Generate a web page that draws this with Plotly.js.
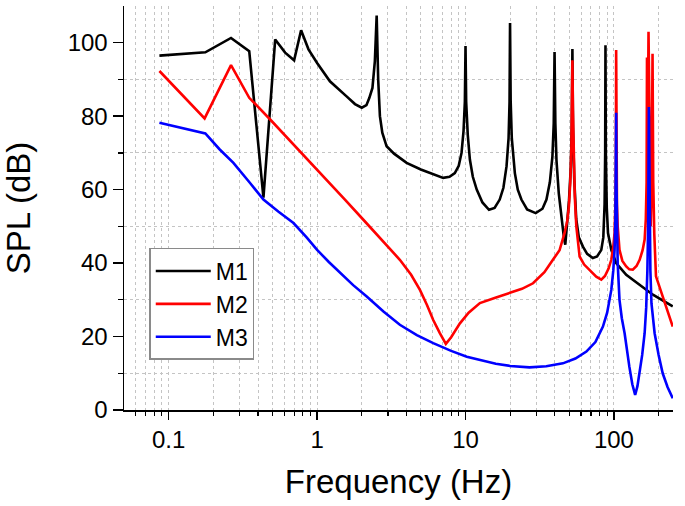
<!DOCTYPE html>
<html>
<head>
<meta charset="utf-8">
<script src="https://cdn.plot.ly/plotly-3.0.1.min.js"></script>
<style>html,body{margin:0;padding:0;background:#fff;}#chart{width:685px;height:506px;}</style>
</head>
<body>
<div id="chart"></div>
<script>
// M1 (black)
const m1Freq = [0.0866,0.1766,0.263,0.349,0.435,0.522,0.609,0.700,0.78,0.875,1.0,1.22,1.58,1.8,2.0,2.15,2.25,2.36,2.45,2.52,2.58,2.65,2.75,2.94,3.3,4.01,5.0,5.75,6.5,7.07,7.8,8.47,9.0,9.4,9.7,9.9,10.0,10.1,10.35,10.7,11.2,11.9,13,14.4,15.7,17,18,18.9,19.5,19.8,19.95,20.15,20.5,21.5,22.5,23.8,26,29.7,33,35.1,37,38.5,39.3,39.8,40.3,41,42.5,44.5,46.0,47.0,48.3,49.8,51.2,52.0,52.5,53.0,54.0,55.7,58,61.8,66,72.1,77,82.2,84.8,86.5,87.3,87.7,88.2,89.5,91.2,96,103.5,121,149,183,249];
const m1SPL  = [96.5,97.4,101.3,97.7,57.8,100.9,97.3,95.2,103.4,98.2,94.5,89.5,85.4,83.3,82.3,83,85,87.7,95,107.4,90,80,75.5,71.8,69.8,67.3,65.5,64.5,63.6,63.2,63.5,64.5,66.5,70,76,84,99.1,84,75,68.2,63.5,60,56.5,54.5,55,57.3,60.5,66.4,74,84,105.4,84,74,64.5,60,57.3,54.6,53.6,54.8,57.3,62,69,78,97.5,78,68,59,51.5,47,45,50,57,66,77,98.3,77,63,52,47,44.5,42.5,41.4,41.8,43.6,47,56,70,99.3,70,55,48.2,43.6,40,36.8,34.1,31.4,28.2];
// M2 (red)
const m2Freq = [0.0866,0.1746,0.263,0.349,0.483,1.22,1.54,2.05,3.61,4.3,4.93,5.5,6.06,6.7,7.37,8.0,9.17,10.5,12.5,15.7,19.9,24,28.5,34,38.8,43,46.5,48.5,49.7,50.8,51.7,52.2,52.5,52.9,53.5,54.5,55.8,57.2,58.7,63,68.5,76,82.2,87,92,96,99,101,102.3,103.0,103.5,104.0,104.8,106,109,114,121,127,134,142,149,156,161,164,166,167,168.5,171,174,177,179.5,182,184,187,192,200,213,230,249];
const m2SPL  = [92.3,79.4,93.9,85,79.1,61.8,57.3,51.8,40.9,36.8,32.7,28.6,24.5,21,18.0,19.8,23.6,26.5,29.1,30.5,31.8,33.0,34.5,37.5,40.9,43.5,48.2,51.5,55.4,62,72,82,95.2,82,70,58,50,45,41.8,39.6,38.2,36.3,35.5,36.5,38.5,40.9,44.5,48.2,56,68,98,68,56,50,43.6,40.6,39.1,38.3,38.2,39.2,40.9,43.5,46.4,52,62,96,70,103,65,50,62,97,62,48,36.4,34.2,30.9,27,22.7];
// M3 (blue)
const m3Freq = [0.0866,0.1766,0.22,0.273,0.35,0.435,0.55,0.693,0.85,1.0,1.2,1.43,1.75,2.16,2.8,3.61,4.7,6.06,8,10.2,12.5,16,20,27,35,45.3,55,65.2,75,84.3,90,96,99,101,102.3,103,103.5,104,104.8,106,109,113,118,122,127,133,139,144,149,155,161,165,168,170,172,174,176,179,188,200,213,230,249];
const m3SPL  = [78.2,75.3,71,67.3,62,57.3,54,50.9,47,43.6,40.3,37.3,34,30.9,26.8,23.2,20.4,18.2,16.1,14.5,13.6,12.6,12,11.6,11.9,12.7,14,15.9,18.5,22.7,26.5,32.7,38,43.6,52,62,80.9,62,50,40,30,25,20.9,16.5,11.8,7,4.1,6.5,10,15,20.9,28,38,50,82.5,50,38,29,20.9,15,10,6.2,3.2];

const seriesNames = ["M1","M2","M3"];
const xTickVals = [0.1,1,10,100];
const xTickText = ["0.1","1","10","100"];
const xMinorVals = [0.06,0.07,0.08,0.09,0.2,0.3,0.4,0.5,0.6,0.7,0.8,0.9,2,3,4,5,6,7,8,9,20,30,40,50,60,70,80,90,200];
const yTickVals = [0,20,40,60,80,100];
const yMinorVals = [10,30,50,70,90];

const FONT = "Liberation Sans, Arial, sans-serif";
const traces = [
  {x:m1Freq, y:m1SPL, name:seriesNames[0], mode:"lines", line:{color:"#000000", width:2.6}},
  {x:m2Freq, y:m2SPL, name:seriesNames[1], mode:"lines", line:{color:"#ff0000", width:2.6}},
  {x:m3Freq, y:m3SPL, name:seriesNames[2], mode:"lines", line:{color:"#0000ff", width:2.6}}
];
const layout = {
  width:685, height:506,
  margin:{l:124, r:12, t:6, b:96},
  paper_bgcolor:"#ffffff", plot_bgcolor:"#ffffff",
  font:{family:FONT, color:"#000", size:22},
  showlegend:true,
  legend:{x:0.046, y:0.401, xanchor:"left", yanchor:"top", bgcolor:"#ffffff",
          bordercolor:"#8a8a8a", borderwidth:1.5, font:{family:FONT, size:23, color:"#000"},
          itemwidth:55, tracegroupgap:0},
  xaxis:{type:"log", range:[Math.log10(0.05), Math.log10(250)],
         tickmode:"array", tickvals:xTickVals, ticktext:xTickText,
         ticks:"outside", ticklen:8, tickwidth:1.5, tickcolor:"#000",
         showline:true, linecolor:"#000", linewidth:1.5, mirror:false,
         showgrid:true, gridcolor:"#c4c4c4", griddash:"dot", gridwidth:1,
         zeroline:false, tickfont:{family:FONT, size:24, color:"#000"},
         minor:{tickmode:"array", tickvals:xMinorVals, ticks:"outside", ticklen:4, tickwidth:1.2, tickcolor:"#000",
                showgrid:true, gridcolor:"#c4c4c4", griddash:"dot", gridwidth:1},
         title:{text:"Frequency (Hz)", font:{family:FONT, size:33, color:"#000"}, standoff:17}},
  yaxis:{range:[0,110], tickmode:"array", tickvals:yTickVals,
         ticks:"outside", ticklen:10, tickwidth:1.5, tickcolor:"#000",
         showline:true, linecolor:"#000", linewidth:1.5, mirror:false,
         showgrid:false, zeroline:false, tickfont:{family:FONT, size:24, color:"#000"},
         minor:{tickmode:"array", tickvals:yMinorVals, ticks:"outside", ticklen:5, tickwidth:1.2, tickcolor:"#000",
                showgrid:true, gridcolor:"#c4c4c4", griddash:"dot", gridwidth:1},
         title:{text:"SPL (dB)", font:{family:FONT, size:33, color:"#000"}, standoff:30}}
};
Plotly.newPlot("chart", traces, layout, {displayModeBar:false, staticPlot:true});
</script>
</body>
</html>
